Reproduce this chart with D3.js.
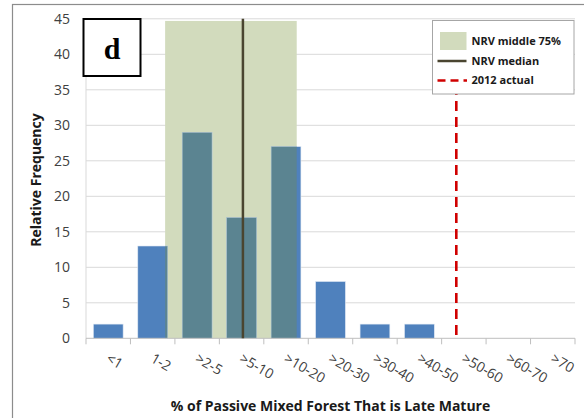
<!DOCTYPE html>
<html><head><meta charset="utf-8">
<script src="https://cdn.jsdelivr.net/npm/d3@7"></script>
<style>
html,body{margin:0;padding:0;background:#fff;}
svg{display:block;font-family:"Open Sans",sans-serif;}
</style></head>
<body><svg id="c" width="584" height="418"></svg>
<script>
const categories = ["<1","1-2",">2-5",">5-10",">10-20",">20-30",">30-40",">40-50",">50-60",">60-70",">70"];
const frequency = [2,13,29,17,27,8,2,2,0,0,0];
const yTicks = [0,5,10,15,20,25,30,35,40,45];
// NRV range and markers, in category-index units along the x axis
const nrvMiddle75 = {from: 1.78, to: 4.74, height: 44.7};
const nrvMedian = 3.53;
const actual2012 = 8.33;
const legendItems = ["NRV middle 75%","NRV median","2012 actual"];

const svg = d3.select("#c");
const L = 86, R = 575, T = 18.8, B = 338.3;
const x = d3.scaleBand().domain(categories).range([L, R]).paddingInner(0.33).paddingOuter(0.165);
const xc = d3.scaleLinear().domain([0, categories.length]).range([L, R]);
const y = d3.scaleLinear().domain([0, 45]).range([B, T]);

// outer frame
svg.append("rect").attr("x",12.5).attr("y",4.5).attr("width",600).attr("height",500)
  .attr("fill","none").attr("stroke","#8c8c8c").attr("stroke-width",1.2);

// gridlines
svg.append("g").selectAll("line").data(yTicks.filter(d=>d>0)).join("line")
  .attr("x1",L).attr("x2",R).attr("y1",d=>y(d)).attr("y2",d=>y(d))
  .attr("stroke","#d9d9d9").attr("stroke-width",1);
svg.append("line").attr("x1",L).attr("x2",L).attr("y1",y(45)).attr("y2",B)
  .attr("stroke","#d9d9d9");

// shaded NRV middle 75%
const shadeX0 = xc(nrvMiddle75.from), shadeX1 = xc(nrvMiddle75.to);
svg.append("rect").attr("x",shadeX0).attr("y",y(nrvMiddle75.height))
  .attr("width",shadeX1-shadeX0).attr("height",B-y(nrvMiddle75.height))
  .attr("fill","#d2dbbd");

// bars
const bars = svg.append("g");
bars.selectAll("rect").data(frequency).join("rect")
  .attr("x",(d,i)=>x(categories[i])).attr("width",x.bandwidth())
  .attr("y",d=>y(d)).attr("height",d=>B-y(d))
  .attr("fill","#4f81bd").attr("stroke","#dfe8f3").attr("stroke-width",0.6);
// overlapped part of bars, clipped to shade
svg.append("clipPath").attr("id","shadeclip").append("rect")
  .attr("x",shadeX0).attr("y",0).attr("width",shadeX1-shadeX0).attr("height",B);
svg.append("g").attr("clip-path","url(#shadeclip)").selectAll("rect").data(frequency).join("rect")
  .attr("x",(d,i)=>x(categories[i])).attr("width",x.bandwidth())
  .attr("y",d=>y(d)).attr("height",d=>B-y(d))
  .attr("fill","#5b8491").attr("stroke","#a9bfc4").attr("stroke-width",0.6);

// x axis line and ticks
svg.append("line").attr("x1",L).attr("x2",R).attr("y1",B).attr("y2",B).attr("stroke","#bfbfbf");
svg.append("g").selectAll("line").data(d3.range(categories.length+1)).join("line")
  .attr("x1",d=>xc(d)).attr("x2",d=>xc(d)).attr("y1",B).attr("y2",B+6).attr("stroke","#bfbfbf");

// median line
svg.append("line").attr("x1",xc(nrvMedian)).attr("x2",xc(nrvMedian)).attr("y1",y(45)).attr("y2",B)
  .attr("stroke","#4a4530").attr("stroke-width",2.5);
// 2012 actual
svg.append("line").attr("x1",xc(actual2012)).attr("x2",xc(actual2012)).attr("y1",y(nrvMiddle75.height)).attr("y2",B)
  .attr("stroke","#d00000").attr("stroke-width",2.6).attr("stroke-dasharray","10,6");

// y tick labels
svg.append("g").selectAll("text").data(yTicks).join("text")
  .attr("x",70).attr("y",d=>y(d)+5).attr("text-anchor","end")
  .attr("font-size",14).attr("fill","#404040").text(d=>d);

// x tick labels
svg.append("g").selectAll("text").data(categories).join("text")
  .attr("transform",c=>`translate(${x(c)+x.bandwidth()/2-3},${B+23}) rotate(30)`)
  .attr("font-size",14).attr("fill","#404040").text(c=>c);

// axis titles
svg.append("text").attr("x",330.5).attr("y",411).attr("text-anchor","middle")
  .attr("font-size",14).attr("font-weight","bold").attr("fill","#1a1a1a")
  .text("% of Passive Mixed Forest That is Late Mature");
svg.append("text").attr("transform","translate(41,180) rotate(-90)").attr("text-anchor","middle")
  .attr("font-size",14).attr("font-weight","bold").attr("fill","#1a1a1a")
  .text("Relative Frequency");

// panel label
svg.append("rect").attr("x",83.5).attr("y",19).attr("width",57).attr("height",57)
  .attr("fill","#fff").attr("stroke","#000").attr("stroke-width",2);
svg.append("text").attr("x",112).attr("y",59).attr("text-anchor","middle")
  .attr("font-family","'Liberation Serif',serif").attr("font-weight","bold").attr("font-size",30)
  .text("d");

// legend
const lg = svg.append("g");
lg.append("rect").attr("x",432.5).attr("y",20.5).attr("width",141.5).attr("height",73.5)
  .attr("fill","#fff").attr("stroke","#a6a6a6");
lg.append("rect").attr("x",440).attr("y",32).attr("width",26.5).attr("height",18).attr("fill","#d2dbbd");
lg.append("line").attr("x1",437.5).attr("x2",466.5).attr("y1",61).attr("y2",61).attr("stroke","#4a4530").attr("stroke-width",2.5);
lg.append("line").attr("x1",437.5).attr("x2",467).attr("y1",80.5).attr("y2",80.5).attr("stroke","#d00000").attr("stroke-width",2.6).attr("stroke-dasharray","8,5");
lg.selectAll("text.l").data(legendItems).join("text").attr("class","l")
  .attr("x",471.5).attr("y",(d,i)=>45+i*19.5).attr("font-size",11).attr("font-weight","bold").attr("fill","#1a1a1a")
  .text(d=>d);
</script></body></html>
